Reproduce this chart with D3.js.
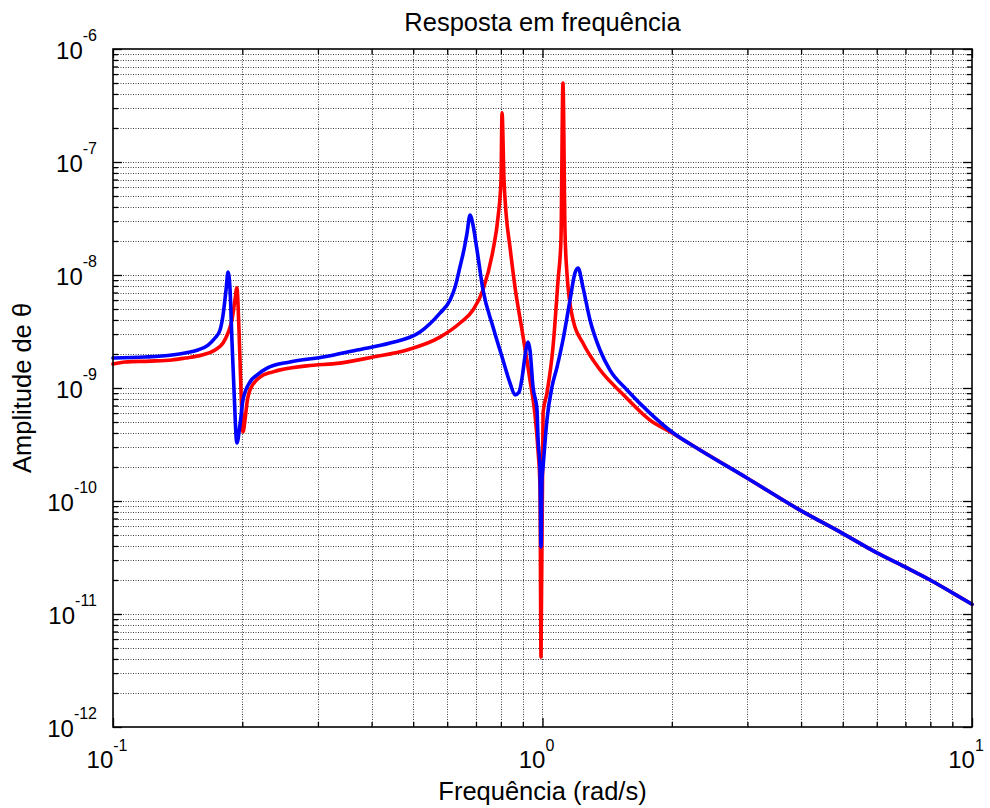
<!DOCTYPE html>
<html>
<head>
<meta charset="utf-8">
<script src="https://cdn.jsdelivr.net/npm/d3@7"></script>
<style>
  html, body { margin: 0; padding: 0; background: #fff; }
  svg { display: block; font-family: "Liberation Sans", Arial, sans-serif; }
</style>
</head>
<body>
<svg id="chart" width="990" height="808"></svg>
<script>
// Frequency response amplitude of theta, two configurations
const redFreq = [0.1, 0.1066, 0.122, 0.1372, 0.1471, 0.1611, 0.1728, 0.1804, 0.1853, 0.1892,
  0.1923, 0.1943, 0.1965, 0.1986, 0.2007, 0.2029, 0.2051, 0.2084, 0.2199, 0.2358,
  0.2829, 0.3377, 0.4031, 0.4837, 0.5771, 0.6425, 0.689, 0.727, 0.767, 0.788,
  0.8005, 0.805, 0.8136, 0.8224, 0.840, 0.863, 0.896, 0.935, 0.9605, 0.976,
  0.9867, 0.992, 1.003, 1.024, 1.058, 1.087, 1.104, 1.116, 1.128, 1.140,
  1.178, 1.242, 1.361, 1.539, 1.779, 2.002, 2.326, 2.993, 3.977, 4.982,
  6.010, 6.98, 7.99, 9.03, 10];
const redAmp = [1.63e-9, 1.70e-9, 1.73e-9, 1.77e-9, 1.84e-9, 1.96e-9, 2.17e-9, 2.50e-9, 3.07e-9, 4.0e-9,
  6.0e-9, 7.7e-9, 3.26e-9, 9.6e-10, 4.08e-10, 5.2e-10, 7.4e-10, 9.6e-10, 1.25e-9, 1.39e-9,
  1.57e-9, 1.66e-9, 1.88e-9, 2.17e-9, 2.82e-9, 3.76e-9, 4.9e-9, 7.4e-9, 1.66e-8, 3.26e-8,
  6.9e-8, 2.72e-7, 6.9e-8, 3.54e-8, 1.77e-8, 7.8e-9, 3.26e-9, 1.18e-9, 5.8e-10, 2.83e-10,
  1.33e-10, 4.16e-12, 6.0e-10, 9.0e-10, 2.31e-9, 9.0e-9, 2.04e-8, 5.0e-7, 2.5e-8, 1.04e-8,
  4.0e-9, 2.5e-9, 1.45e-9, 8.8e-10, 5.2e-10, 4.0e-10, 2.83e-10, 1.60e-10, 8.3e-11, 5.2e-11,
  3.47e-11, 2.61e-11, 2.0e-11, 1.53e-11, 1.22e-11];

const blueFreq = [0.1, 0.1187, 0.1372, 0.1471, 0.1577, 0.1665, 0.1728, 0.1775, 0.1804, 0.1833,
  0.1853, 0.1873, 0.1892, 0.1913, 0.1943, 0.1975, 0.2007, 0.2084, 0.2163, 0.2284,
  0.2583, 0.3083, 0.370, 0.4416, 0.5186, 0.5771, 0.6093, 0.6256, 0.6425, 0.6573, 0.6673, 0.678,
  0.689, 0.704, 0.727, 0.767, 0.809, 0.840, 0.863, 0.882, 0.896, 0.915,
  0.925, 0.935, 0.9504, 0.971, 0.976, 0.9867, 0.992, 0.9973, 1.003, 1.024,
  1.052, 1.081, 1.116, 1.159, 1.190, 1.210, 1.242, 1.290, 1.361, 1.436,
  1.573, 1.779, 2.002, 2.326, 2.993, 3.977, 4.982, 6.010, 6.98, 7.99,
  9.03, 10];
const blueAmp = [1.84e-9, 1.88e-9, 1.96e-9, 2.04e-9, 2.17e-9, 2.40e-9, 2.77e-9, 3.26e-9, 4.43e-9, 7.36e-9,
  1.06e-8, 7.4e-9, 2.66e-9, 9.6e-10, 3.26e-10, 4.7e-10, 7.8e-10, 1.13e-9, 1.30e-9, 1.50e-9,
  1.70e-9, 1.88e-9, 2.17e-9, 2.50e-9, 3.13e-9, 4.6e-9, 6.0e-9, 7.8e-9, 1.18e-8, 1.72e-8, 2.35e-8, 3.4e-8,
  2.77e-8, 1.66e-8, 7.36e-9, 3.47e-9, 1.77e-9, 1.11e-9, 8.7e-10, 9.2e-10, 1.22e-9, 2.17e-9,
  2.55e-9, 2.17e-9, 1.02e-9, 6.4e-10, 3.68e-10, 1.88e-10, 3.92e-11, 1.53e-10, 2.0e-10, 5.2e-10,
  1.02e-9, 1.53e-9, 2.66e-9, 6.0e-9, 1.04e-8, 1.15e-8, 7.8e-9, 4.0e-9, 2.17e-9, 1.44e-9,
  9.6e-10, 6.0e-10, 4.08e-10, 2.83e-10, 1.60e-10, 8.3e-11, 5.2e-11, 3.47e-11, 2.61e-11, 2.0e-11,
  1.53e-11, 1.22e-11];

const xExponents = [-1, 0, 1];
const yExponents = [-12, -11, -10, -9, -8, -7, -6];
const titleText = "Resposta em frequência";
const xLabelText = "Frequência (rad/s)";
const yLabelText = "Amplitude de θ";

const margin = { left: 113, right: 18, top: 49, bottom: 81 };
const W = 990, H = 808;
const svg = d3.select("#chart");

const x = d3.scaleLog().domain([0.1, 10]).range([margin.left, W - margin.right]);
const y = d3.scaleLog().domain([1e-12, 1e-6]).range([H - margin.bottom, margin.top]);
const x0 = x.range()[0], x1 = x.range()[1];
const y0 = y.range()[0], y1 = y.range()[1];

// decade multiples for grid and ticks
function logTicks(lo, hi) {
  const out = [];
  for (let e = Math.round(Math.log10(lo)); e < Math.round(Math.log10(hi)); e++) {
    for (let m = 1; m <= 9; m++) out.push(m * Math.pow(10, e));
  }
  out.push(hi);
  return out;
}
const xAll = logTicks(0.1, 10);
const yAll = logTicks(1e-12, 1e-6);
const isMajor = v => Math.abs(Math.log10(v) - Math.round(Math.log10(v))) < 1e-9;
const xMajor = xAll.filter(isMajor), xMinor = xAll.filter(v => !isMajor(v));
const yMajor = yAll.filter(isMajor), yMinor = yAll.filter(v => !isMajor(v));

// dotted grid
const grid = svg.append("g").attr("stroke", "#111").attr("stroke-width", 1)
  .attr("stroke-dasharray", "1,1.5").attr("stroke-opacity", 0.8);
grid.selectAll("line.gx").data(xAll.filter(v => v > 0.1 && v < 10)).join("line")
  .attr("x1", d => Math.round(x(d)) + 0.5).attr("x2", d => Math.round(x(d)) + 0.5)
  .attr("y1", y1).attr("y2", y0);
grid.selectAll("line.gy").data(yAll.filter(v => v > 1e-12 && v < 1e-6)).join("line")
  .attr("y1", d => Math.round(y(d)) + 0.5).attr("y2", d => Math.round(y(d)) + 0.5)
  .attr("x1", x0).attr("x2", x1);

// inward ticks on all four sides
function tickAxes(maker, scale, vals, size, tx, ty) {
  const g = svg.append("g").attr("transform", `translate(${tx},${ty})`)
    .call(maker(scale).tickValues(vals).tickSize(size).tickSizeOuter(0).tickFormat(""));
  g.select(".domain").remove();
  g.selectAll(".tick line").attr("stroke", "#000").attr("stroke-width", 1.3);
}
[[xMajor, 9], [xMinor, 5]].forEach(([v, s]) => {
  tickAxes(d3.axisBottom, x, v, -s, 0, y0);
  tickAxes(d3.axisTop, x, v, -s, 0, y1);
});
[[yMajor, 9], [yMinor, 5]].forEach(([v, s]) => {
  tickAxes(d3.axisLeft, y, v, -s, x0, 0);
  tickAxes(d3.axisRight, y, v, -s, x1, 0);
});

// curves
const line = d3.line().x(d => x(d[0])).y(d => y(d[1])).curve(d3.curveMonotoneX);
const series = [
  { f: redFreq, a: redAmp, color: "#ff0000" },
  { f: blueFreq, a: blueAmp, color: "#0000ff" }
];
svg.append("g").selectAll("path").data(series).join("path")
  .attr("d", s => line(s.f.map((f, i) => [f, s.a[i]])))
  .attr("fill", "none").attr("stroke", s => s.color)
  .attr("stroke-width", 3.6).attr("stroke-linejoin", "round").attr("stroke-linecap", "round");

// frame
svg.append("rect").attr("x", x0).attr("y", y1).attr("width", x1 - x0).attr("height", y0 - y1)
  .attr("fill", "none").attr("stroke", "#000").attr("stroke-width", 1.6);

// power-of-ten tick labels
const xl = svg.append("g").attr("font-size", 24).attr("fill", "#000");
xl.selectAll("text").data(xExponents).join("text")
  .attr("x", e => x(Math.pow(10, e)) - 6).attr("y", y0 + 41).attr("text-anchor", "middle")
  .each(function (e) {
    const t = d3.select(this);
    t.append("tspan").text("10");
    t.append("tspan").attr("font-size", 16).attr("dy", -17).text(String(e));
  });
const yl = svg.append("g").attr("font-size", 24).attr("fill", "#000");
yl.selectAll("text").data(yExponents).join("text")
  .attr("x", x0 - 16).attr("y", e => y(Math.pow(10, e)) + 10).attr("text-anchor", "end")
  .each(function (e) {
    const t = d3.select(this);
    t.append("tspan").text("10");
    t.append("tspan").attr("font-size", 16).attr("dy", -18).text(String(e));
  });

// title and axis labels
svg.append("text").attr("x", (x0 + x1) / 2).attr("y", 31).attr("text-anchor", "middle")
  .attr("font-size", 25.5).text(titleText);
svg.append("text").attr("x", (x0 + x1) / 2).attr("y", 800).attr("text-anchor", "middle")
  .attr("font-size", 25.5).text(xLabelText);
svg.append("text").attr("transform", `translate(31,${(y0 + y1) / 2}) rotate(-90)`)
  .attr("text-anchor", "middle").attr("font-size", 25.5).text(yLabelText);
</script>
</body>
</html>
